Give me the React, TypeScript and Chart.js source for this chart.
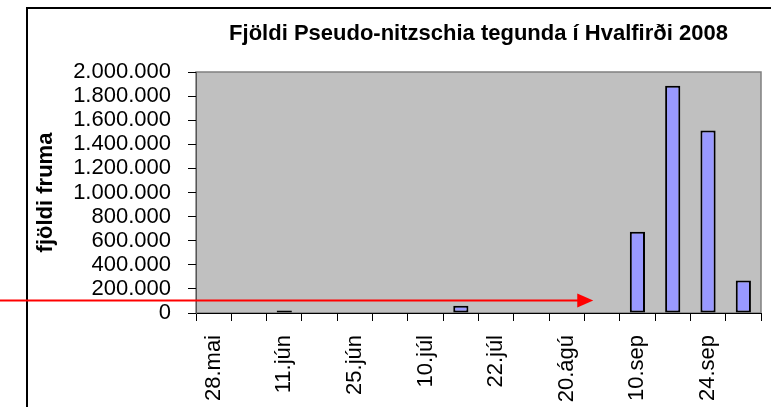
import React, { useEffect, useRef } from 'react';
import { Chart, registerables } from 'chart.js';

Chart.register(...registerables);

const titleText = 'Fjöldi Pseudo-nitzschia tegunda í Hvalfirði 2008';
const yTitle = 'fjöldi fruma';
const categories = ['28.mai', '', '11.jún', '', '25.jún', '', '10.júl', '', '22.júl', '', '20.ágú', '', '10.sep', '', '24.sep', ''];
const counts = [0, 0, 20000, 0, 0, 0, 0, 60000, 0, 0, 0, 0, 675000, 1885000, 1515000, 270000];
const yMin = 0;
const yMax = 2000000;
const yStep = 200000;
// red annotation arrow: level on value axis, end position in category units
const arrowLevel = 104000;
const arrowEnd = 10.75;

const FONT = "'Liberation Sans', Arial, Helvetica, sans-serif";

const fmt = (v: number) => String(Math.round(v)).replace(/\B(?=(\d{3})+(?!\d))/g, '.');

const framePlugin = {
  id: 'frame',
  beforeDraw(chart: any) {
    const { ctx, chartArea: a } = chart;
    ctx.save();
    ctx.fillStyle = '#ffffff';
    ctx.fillRect(0, 0, chart.width, chart.height);
    ctx.strokeStyle = '#000';
    ctx.lineWidth = 2;
    ctx.beginPath();
    ctx.moveTo(27, chart.height + 10);
    ctx.lineTo(27, 8);
    ctx.lineTo(chart.width + 10, 8);
    ctx.stroke();
    ctx.fillStyle = '#C0C0C0';
    ctx.fillRect(a.left, a.top, a.right - a.left, a.bottom - a.top);
    ctx.strokeStyle = '#808080';
    ctx.lineWidth = 1.5;
    ctx.strokeRect(a.left, a.top, a.right - a.left, a.bottom - a.top);
    ctx.restore();
  },
};

const arrowPlugin = {
  id: 'arrow',
  afterDraw(chart: any) {
    const { ctx } = chart;
    const xs = chart.scales.x;
    const ys = chart.scales.y;
    const y = ys.getPixelForValue(arrowLevel);
    const tip = xs.getPixelForValue(arrowEnd);
    ctx.save();
    ctx.strokeStyle = '#FF0000';
    ctx.fillStyle = '#FF0000';
    ctx.lineWidth = 2;
    ctx.beginPath();
    ctx.moveTo(0, y);
    ctx.lineTo(tip - 14, y);
    ctx.stroke();
    ctx.beginPath();
    ctx.moveTo(tip, y);
    ctx.lineTo(tip - 16, y - 7);
    ctx.lineTo(tip - 16, y + 7);
    ctx.closePath();
    ctx.fill();
    ctx.restore();
  },
};

export default function App() {
  const ref = useRef<HTMLCanvasElement>(null);
  useEffect(() => {
    Chart.defaults.font.family = FONT;
    const chart = new Chart(ref.current as HTMLCanvasElement, {
      type: 'bar',
      data: {
        labels: categories,
        datasets: [
          {
            data: counts,
            backgroundColor: '#9999FF',
            borderColor: '#000000',
            borderWidth: 2,
            borderSkipped: false,
            barPercentage: 0.43,
            categoryPercentage: 1,
          },
        ],
      },
      options: {
        responsive: false,
        animation: false,
        layout: { padding: { left: 0, right: 10, top: 0, bottom: 0 } },
        plugins: {
          legend: { display: false },
          tooltip: { enabled: false },
          title: {
            display: true,
            text: titleText,
            fullSize: false,
            color: '#000',
            font: { size: 22, weight: 'bold', family: FONT },
            padding: { top: 21, bottom: 24.6 },
          },
        },
        scales: {
          x: {
            type: 'category',
            grid: { offset: true, drawOnChartArea: false, drawTicks: true, tickLength: 8, color: '#000' },
            border: { color: '#000', width: 1 },
            ticks: {
              autoSkip: false,
              maxRotation: 90,
              minRotation: 90,
              padding: 14,
              color: '#000',
              font: { size: 22, family: FONT },
            },
            afterFit: (s: any) => {
              s.height = 94;
              s.paddingLeft = 0;
              s.paddingRight = 0;
            },
          },
          y: {
            min: yMin,
            max: yMax,
            grid: { drawOnChartArea: false, drawTicks: true, tickLength: 8, color: '#000' },
            border: { color: '#555', width: 1 },
            ticks: {
              stepSize: yStep,
              autoSkip: false,
              padding: 17,
              color: '#000',
              font: { size: 22, family: FONT },
              callback: (v: any) => fmt(Number(v)),
            },
            title: {
              display: true,
              text: yTitle,
              color: '#000',
              font: { size: 22, weight: 'bold', family: FONT },
              padding: { top: 33, bottom: 0 },
            },
            afterFit: (s: any) => {
              s.width = 196;
            },
          },
        },
      },
      plugins: [framePlugin, arrowPlugin],
    } as any);
    return () => chart.destroy();
  }, []);
  return (
    <div style={{ position: 'absolute', left: 0, top: 0, width: 771, height: 407, overflow: 'hidden' }}>
      <canvas ref={ref} width={771} height={407} style={{ display: 'block' }} />
    </div>
  );
}
